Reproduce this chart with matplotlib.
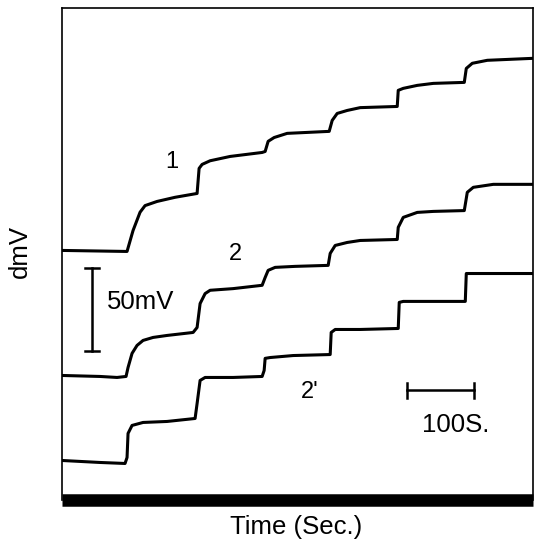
import matplotlib
matplotlib.use("Agg")
import matplotlib.pyplot as plt

plt.rcParams["font.family"] = ["Liberation Sans", "DejaVu Sans"]

# time (s) and potential (mV)
t1 = [0, 94.5, 97.5, 106.5, 117, 124.5, 142.5, 169.5, 198, 202.5, 205.5, 210, 222, 252, 300,
      304.5, 309, 318, 337.5, 400.5, 405, 412.5, 427.5, 447, 502.5, 504, 511.5, 532.5, 556.5,
      603, 606, 615, 637.5, 706.5]
v1 = [150, 149.4, 149.4, 162, 173, 177, 179.5, 182, 184, 184.3, 199.4, 201.8, 204, 206.6, 209,
      209.6, 215.7, 218, 220.5, 221.7, 228.3, 232.5, 234.3, 236, 236.7, 246.4, 247.6, 249.4,
      250.6, 251.2, 259.6, 262.7, 264.5, 265.7]

t2 = [0, 57, 82.5, 96, 99, 105, 112.5, 121.5, 136.5, 157.5, 196.5, 202.5, 207, 214.5, 222,
      256.5, 300, 304.5, 309, 319.5, 349.5, 399, 402, 409.5, 427.5, 447, 502.5, 504, 511.5,
      532.5, 556.5, 603, 607.5, 616.5, 646.5, 706.5]
v2 = [74.7, 74.1, 73.5, 74.1, 79.5, 88, 92.8, 95.8, 97.6, 98.8, 100.6, 103.6, 118, 124, 126,
      127, 129, 133.7, 138, 139.8, 140.4, 141, 148.2, 153, 154.8, 156, 156.6, 163.9, 169.9,
      172.9, 173.5, 174, 185, 188, 189.8, 189.8]

t2p = [0, 57, 94.5, 97.5, 99, 105, 121.5, 157.5, 199.5, 202.5, 207, 214.5, 256.5, 300, 303,
       304.5, 312, 346.5, 402, 403.5, 409.5, 447, 504, 505.5, 511.5, 604.5, 606, 646.5, 706.5]
v2p = [23.5, 22.3, 21.7, 25.3, 39.8, 44.6, 46.4, 47, 48.8, 57.8, 71.7, 73.5, 73.5, 74.1, 77.7,
       85, 85.5, 86.7, 87.3, 100.6, 102.4, 102.4, 103, 118.7, 119.3, 119.3, 136.1, 136.1, 136.1]

curve_labels = ["1", "2", "2'"]

bar_mv = 50    # vertical scale bar
bar_s = 100    # horizontal scale bar

fig = plt.figure(figsize=(5.34, 5.45), dpi=100)
ax = fig.add_axes([62 / 534, 1 - 499.5 / 545, 471 / 534, 491.5 / 545])

for t, v in [(t1, v1), (t2, v2), (t2p, v2p)]:
    ax.plot(t, v, color="black", lw=2.2, solid_joinstyle="round")

ax.set_xlim(0, 706)
ax.set_ylim(0, 296)
ax.set_xticks([])
ax.set_yticks([])
for side in ["left", "top", "right"]:
    ax.spines[side].set_linewidth(1.2)
ax.spines["bottom"].set_linewidth(9)
ax.spines["bottom"].set_capstyle("butt")

# curve numbers
for lab, (x, y) in zip(curve_labels, [(165, 203), (259.5, 148), (372, 64.5)]):
    ax.text(x, y, lab, fontsize=17, ha="center", va="center")

# 50 mV scale bar
bx, by = 45, 89.2
ax.plot([bx, bx], [by, by + bar_mv], color="black", lw=1.8)
for yy in (by, by + bar_mv):
    ax.plot([bx - 10, bx + 10], [yy, yy], color="black", lw=1.8)
ax.text(67.5, by + bar_mv * 0.59, f"{bar_mv}mV", fontsize=18.5, ha="left", va="center")

# 100 s scale bar
sx, sy = 517.5, 65.7
ax.plot([sx, sx + bar_s], [sy, sy], color="black", lw=1.8)
for xx in (sx, sx + bar_s):
    ax.plot([xx, xx], [sy - 4.5, sy + 4.5], color="black", lw=1.8)
ax.text(sx + bar_s * 0.72, 45, f"{bar_s}S.", fontsize=18.5, ha="center", va="center")

fig.text(296 / 534, 1 - 527 / 545, "Time (Sec.)", fontsize=18.5, ha="center", va="center")
fig.text(20 / 534, 1 - 252 / 545, "dmV", fontsize=18.5, ha="center", va="center", rotation=90)

fig.savefig("out.png", dpi=100)
